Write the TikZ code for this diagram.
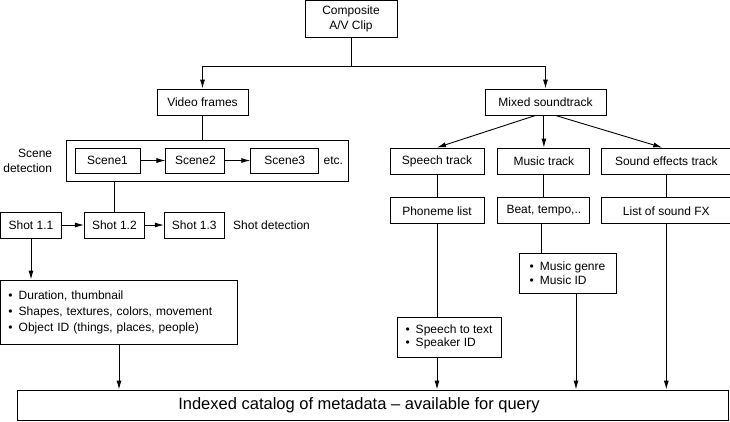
\documentclass[tikz,border=0pt]{standalone}
\usepackage{fontspec}
\setmainfont{Liberation Sans}
\usetikzlibrary{positioning, arrows.meta}

\begin{document}
\begin{tikzpicture}[
  x=1pt, y=-1pt,
  font=\fontsize{12}{15}\selectfont,
  >={Latex[length=9pt, width=5pt]},
  line width=0.9pt,
  box/.style={draw, align=center, inner sep=2pt, minimum height=26pt},
  sbox/.style={box, minimum height=25pt},
  listbox/.style={draw, align=left, inner xsep=8pt, inner ysep=4pt},
  lbl/.style={inner sep=0pt},
  arr/.style={->},
]
\useasboundingbox (0,0) rectangle (730,421);

% ---- source clip and its two streams ----
\node[box, minimum width=92pt, minimum height=37pt] (clip) at (351,18.5) {Composite\\A/V Clip};
\node[box, minimum width=91pt] (vid) at (202.5,102) {Video frames};
\node[box, minimum width=121pt] (mix) at (545.5,102) {Mixed soundtrack};
\coordinate[below=29pt of clip] (split);
\draw (clip) -- (split);
\draw[arr] (split) -| (vid.north);
\draw[arr] (split) -| (mix.north);

% ---- scene detection ----
\node[draw, minimum width=282pt, minimum height=41pt] (scenes) at (207,160.5) {};
\node[sbox, minimum width=65pt] (sc1) at (107.5,160.5) {Scene1};
\node[sbox, minimum width=59pt, right=25pt of sc1] (sc2) {Scene2};
\node[sbox, minimum width=68pt, right=25pt of sc2] (sc3) {Scene3};
\node[lbl, right=4pt of sc3] (etc) {etc.};
\node[lbl, align=right, left=13pt of scenes] (scdet) {Scene\\detection};
\draw (vid) -- (vid.south |- scenes.north);
\draw[arr] (sc1) -- (sc2);
\draw[arr] (sc2) -- (sc3);

% ---- shot detection ----
\node[box, minimum width=61pt] (sh1) at (31,225) {Shot 1.1};
\node[box, minimum width=60pt, right=22pt of sh1] (sh2) {Shot 1.2};
\node[box, minimum width=60pt, right=19pt of sh2] (sh3) {Shot 1.3};
\node[lbl, right=8pt of sh3] (shdet) {Shot detection};
\draw (sh2.north |- scenes.south) -- (sh2);
\draw[arr] (sh1) -- (sh2);
\draw[arr] (sh2) -- (sh3);

% ---- video metadata ----
\node[listbox, text width=221pt, minimum height=64pt, font=\fontsize{12}{16}\selectfont] (vmeta) at (119,312)
  {\textbullet\enspace Duration, thumbnail\\\textbullet\enspace Shapes, textures, colors, movement\\\textbullet\enspace Object ID (things, places, people)};
\draw[arr] (sh1) -- (sh1.south |- vmeta.north);

% ---- audio tracks ----
\node[box, minimum width=94pt] (speech) at (437,161) {Speech track};
\node[box, minimum width=92pt, right=13pt of speech] (music) {Music track};
\node[box, minimum width=129pt, right=11pt of music] (sfx) {Sound effects track};
\node[box, minimum width=94pt, below=23pt of speech] (phon) {Phoneme list};
\node[box, minimum width=92pt, below=23pt of music] (beat) {Beat, tempo,..};
\node[box, minimum width=129pt, below=23pt of sfx] (fxl) {List of sound FX};
\draw[arr] ([xshift=-10pt]mix.south) -- (speech.north);
\draw[arr] (music.north |- mix.south) -- (music.north);
\draw[arr] ([xshift=10pt]mix.south) -- ([xshift=-4pt]sfx.north);
\draw (speech) -- (phon);
\draw (music) -- (beat);
\draw (sfx) -- (fxl);

% ---- audio metadata ----
\node[listbox, minimum width=104pt, minimum height=40pt, font=\fontsize{12}{13.5}\selectfont] (spmeta) at (449,337)
  {\textbullet\enspace Speech to text\\\textbullet\enspace Speaker ID};
\node[listbox, minimum width=97pt, minimum height=40pt, font=\fontsize{12}{13.5}\selectfont] (mumeta) at (567.5,273)
  {\textbullet\enspace Music genre\\\textbullet\enspace Music ID};
\draw (phon) -- (phon.south |- spmeta.north);
\draw ([xshift=-2pt]beat.south) -- ([xshift=-2pt]beat.south |- mumeta.north);

% ---- catalog ----
\node[draw, minimum width=711pt, minimum height=30pt, font=\fontsize{16.5}{20}\selectfont] (cat) at (372.5,405)
  {Indexed catalog of metadata -- available for query\hspace*{27pt}};
\draw[arr] (vmeta.south) -- (vmeta.south |- cat.north);
\draw[arr] (phon.south |- spmeta.south) -- (phon.south |- cat.north);
\draw[arr] ([xshift=8.5pt]mumeta.south) -- ([xshift=8.5pt]mumeta.south |- cat.north);
\draw[arr] (fxl) -- (fxl.south |- cat.north);

\end{tikzpicture}
\end{document}
